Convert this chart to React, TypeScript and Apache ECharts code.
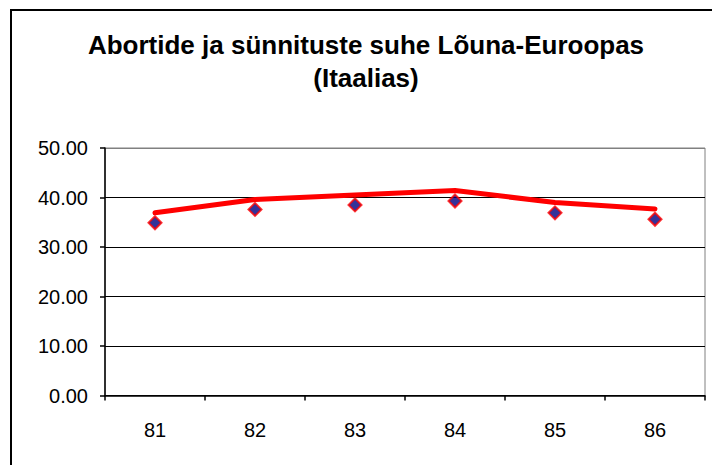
import React, { useEffect, useRef } from "react";
import * as echarts from "echarts";

const categories = ["81", "82", "83", "84", "85", "86"];
const trendValues = [36.9, 39.6, 40.5, 41.4, 39.0, 37.7];
const pointValues = [34.9, 37.6, 38.5, 39.3, 36.9, 35.6];
const titleText = "Abortide ja sünnituste suhe Lõuna-Euroopas\n(Itaalias)";

export default function App() {
  const ref = useRef<HTMLDivElement>(null);
  useEffect(() => {
    document.body.style.margin = "0";
    const chart = echarts.init(ref.current!, null, { renderer: "svg" });
    const font = "'Liberation Sans', Arial, sans-serif";
    chart.setOption({
      animation: false,
      backgroundColor: "#ffffff",
      title: {
        text: titleText,
        left: 366,
        textAlign: "center",
        top: 28,
        padding: 0,
        textStyle: {
          fontFamily: font,
          fontSize: 26,
          fontWeight: "bold",
          color: "#000",
          lineHeight: 33,
        },
      },
      graphic: [
        {
          type: "rect",
          shape: { x: 11, y: 10, width: 740, height: 480 },
          style: { fill: "none", stroke: "#000", lineWidth: 2 },
          silent: true,
        },
      ],
      grid: {
        left: 105,
        right: 7,
        top: 148,
        bottom: 69.5,
        show: true,
        borderColor: "#808080",
        borderWidth: 1,
        backgroundColor: "transparent",
      },
      xAxis: {
        type: "category",
        data: categories,
        boundaryGap: true,
        axisLine: { lineStyle: { color: "#000", width: 1.5 } },
        axisTick: { show: true, alignWithLabel: false, length: 5, lineStyle: { color: "#000", width: 1.5 } },
        axisLabel: { color: "#000", fontFamily: font, fontSize: 20, margin: 24 },
        splitLine: { show: false },
      },
      yAxis: {
        type: "value",
        min: 0,
        max: 50,
        interval: 10,
        axisLine: { show: true, lineStyle: { color: "#000", width: 1.5 } },
        axisTick: { show: true, length: 5, lineStyle: { color: "#000", width: 1.5 } },
        axisLabel: {
          color: "#000",
          fontFamily: font,
          fontSize: 20,
          margin: 17,
          formatter: (v: number) => v.toFixed(2),
        },
        splitLine: {
          show: true,
          lineStyle: {
            color: ["#000", "#000", "#000", "#000", "#000", "#808080"],
            width: 1,
          },
        },
      },
      series: [
        {
          name: "Trend",
          type: "line",
          data: trendValues,
          symbol: "none",
          lineStyle: { color: "#ff0000", width: 5, cap: "round", join: "round" },
          z: 2,
        },
        {
          name: "Suhe",
          type: "scatter",
          data: pointValues,
          symbol: "diamond",
          symbolSize: 13,
          itemStyle: { color: "#000080", borderColor: "#ff0000", borderWidth: 2 },
          z: 3,
        },
      ],
    });
    return () => chart.dispose();
  }, []);
  return <div ref={ref} style={{ width: 712, height: 465 }} />;
}
